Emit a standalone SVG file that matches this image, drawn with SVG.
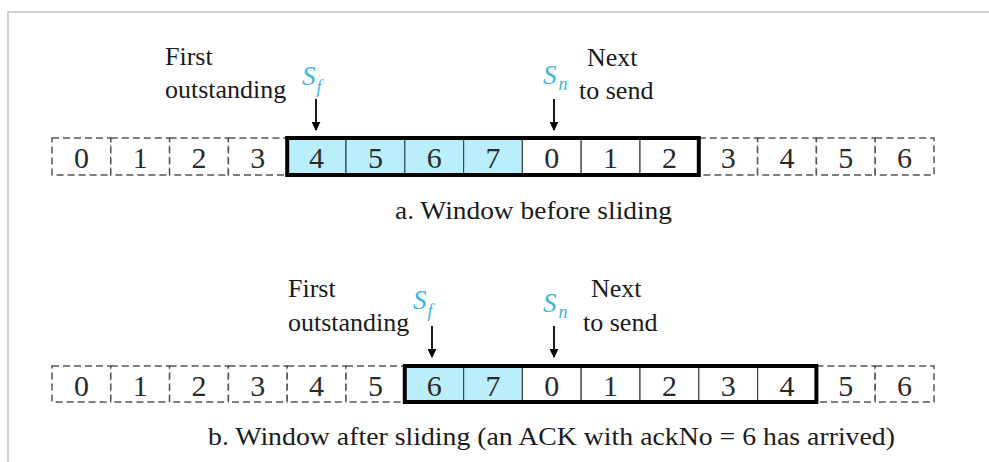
<svg xmlns="http://www.w3.org/2000/svg" width="989" height="462" viewBox="0 0 989 462">
<style>
.frame{fill:none;stroke:#c4c4c4;stroke-width:1.5}
.dash{fill:#fff;stroke:#555;stroke-width:1.5;stroke-dasharray:7 4}
.solid{fill:#fff;stroke:#444;stroke-width:1.2}
.blue{fill:#b9eefa;stroke:#2f4f55;stroke-width:1.2}
.win{fill:none;stroke:#000;stroke-width:4}
text{font-family:'Liberation Serif','DejaVu Serif','Noto Serif',serif}
.num{font-size:30px;fill:#2a2a2a;text-anchor:middle}
.lbl{font-size:26px;fill:#1a1a1a}
.cap{font-size:26px;fill:#1a1a1a}
.ptr{font-style:italic;fill:#3bb6e2}
.arr{stroke:#000;stroke-width:1.8;fill:none}
</style>
<defs>
<marker id="ah" viewBox="0 0 10 10" refX="9" refY="5" markerWidth="9" markerHeight="9" markerUnits="userSpaceOnUse" orient="auto">
<path d="M0,0 L10,5 L0,10 Z" fill="#000"/>
</marker>
</defs>
<path class="frame" d="M8,462 L8,12 L989,12"/>

<g id="row-a">
<g id="a0"><rect class="dash" x="52" y="138" width="58.8" height="37"/><text class="num" x="81.4" y="168">0</text></g>
<g id="a1"><rect class="dash" x="110.8" y="138" width="58.8" height="37"/><text class="num" x="140.2" y="168">1</text></g>
<g id="a2"><rect class="dash" x="169.6" y="138" width="58.8" height="37"/><text class="num" x="199" y="168">2</text></g>
<g id="a3"><rect class="dash" x="228.4" y="138" width="58.8" height="37"/><text class="num" x="257.8" y="168">3</text></g>
<g id="a4"><rect class="blue" x="287.2" y="138" width="58.8" height="37"/><text class="num" x="316.6" y="168">4</text></g>
<g id="a5"><rect class="blue" x="346" y="138" width="58.8" height="37"/><text class="num" x="375.4" y="168">5</text></g>
<g id="a6"><rect class="blue" x="404.8" y="138" width="58.8" height="37"/><text class="num" x="434.2" y="168">6</text></g>
<g id="a7"><rect class="blue" x="463.6" y="138" width="58.8" height="37"/><text class="num" x="493" y="168">7</text></g>
<g id="a8"><rect class="solid" x="522.4" y="138" width="58.8" height="37"/><text class="num" x="551.8" y="168">0</text></g>
<g id="a9"><rect class="solid" x="581.2" y="138" width="58.8" height="37"/><text class="num" x="610.6" y="168">1</text></g>
<g id="a10"><rect class="solid" x="640" y="138" width="58.8" height="37"/><text class="num" x="669.4" y="168">2</text></g>
<g id="a11"><rect class="dash" x="698.8" y="138" width="58.8" height="37"/><text class="num" x="728.2" y="168">3</text></g>
<g id="a12"><rect class="dash" x="757.6" y="138" width="58.8" height="37"/><text class="num" x="787" y="168">4</text></g>
<g id="a13"><rect class="dash" x="816.4" y="138" width="58.8" height="37"/><text class="num" x="845.8" y="168">5</text></g>
<g id="a14"><rect class="dash" x="875.2" y="138" width="58.8" height="37"/><text class="num" x="904.6" y="168">6</text></g>
<rect id="window-a" class="win" x="287.2" y="138" width="411.6" height="37"/>
</g>

<g id="labels-a">
<text class="lbl" x="165" y="65">First</text>
<text class="lbl" x="165" y="98">outstanding</text>
<text class="ptr" x="302" y="85" font-size="27">S<tspan font-size="18" dx="1" dy="8">f</tspan></text>
<text class="ptr" x="543" y="84" font-size="27">S<tspan font-size="18" dx="2" dy="6">n</tspan></text>
<text class="lbl" x="587" y="66">Next</text>
<text class="lbl" x="579" y="99">to send</text>
<text class="cap" x="395" y="219" textLength="277" lengthAdjust="spacingAndGlyphs">a. Window before sliding</text>
</g>

<g id="row-b">
<g id="b0"><rect class="dash" x="52" y="366" width="58.8" height="36"/><text class="num" x="81.4" y="396">0</text></g>
<g id="b1"><rect class="dash" x="110.8" y="366" width="58.8" height="36"/><text class="num" x="140.2" y="396">1</text></g>
<g id="b2"><rect class="dash" x="169.6" y="366" width="58.8" height="36"/><text class="num" x="199" y="396">2</text></g>
<g id="b3"><rect class="dash" x="228.4" y="366" width="58.8" height="36"/><text class="num" x="257.8" y="396">3</text></g>
<g id="b4"><rect class="dash" x="287.2" y="366" width="58.8" height="36"/><text class="num" x="316.6" y="396">4</text></g>
<g id="b5"><rect class="dash" x="346" y="366" width="58.8" height="36"/><text class="num" x="375.4" y="396">5</text></g>
<g id="b6"><rect class="blue" x="404.8" y="366" width="58.8" height="36"/><text class="num" x="434.2" y="396">6</text></g>
<g id="b7"><rect class="blue" x="463.6" y="366" width="58.8" height="36"/><text class="num" x="493" y="396">7</text></g>
<g id="b8"><rect class="solid" x="522.4" y="366" width="58.8" height="36"/><text class="num" x="551.8" y="396">0</text></g>
<g id="b9"><rect class="solid" x="581.2" y="366" width="58.8" height="36"/><text class="num" x="610.6" y="396">1</text></g>
<g id="b10"><rect class="solid" x="640" y="366" width="58.8" height="36"/><text class="num" x="669.4" y="396">2</text></g>
<g id="b11"><rect class="solid" x="698.8" y="366" width="58.8" height="36"/><text class="num" x="728.2" y="396">3</text></g>
<g id="b12"><rect class="solid" x="757.6" y="366" width="58.8" height="36"/><text class="num" x="787" y="396">4</text></g>
<g id="b13"><rect class="dash" x="816.4" y="366" width="58.8" height="36"/><text class="num" x="845.8" y="396">5</text></g>
<g id="b14"><rect class="dash" x="875.2" y="366" width="58.8" height="36"/><text class="num" x="904.6" y="396">6</text></g>
<rect id="window-b" class="win" x="404.8" y="366" width="411.6" height="36"/>
</g>

<g id="labels-b">
<text class="lbl" x="288" y="297">First</text>
<text class="lbl" x="288" y="331">outstanding</text>
<text class="ptr" x="413" y="309" font-size="27">S<tspan font-size="18" dx="1" dy="8">f</tspan></text>
<text class="ptr" x="543" y="312" font-size="27">S<tspan font-size="18" dx="2" dy="6">n</tspan></text>
<text class="lbl" x="591" y="297">Next</text>
<text class="lbl" x="583" y="331">to send</text>
<text class="cap" x="208" y="445" textLength="687" lengthAdjust="spacingAndGlyphs">b. Window after sliding (an ACK with ackNo = 6 has arrived)</text>
</g>

<g id="connectors">
<line class="arr" x1="316" y1="99" x2="316" y2="130" marker-end="url(#ah)"/>
<line class="arr" x1="554" y1="99" x2="554" y2="130" marker-end="url(#ah)"/>
<line class="arr" x1="432" y1="326" x2="432" y2="357" marker-end="url(#ah)"/>
<line class="arr" x1="554" y1="326" x2="554" y2="357" marker-end="url(#ah)"/>
</g>
</svg>
